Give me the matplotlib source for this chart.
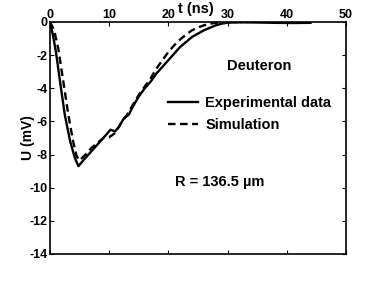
import matplotlib.pyplot as plt

plt.rcParams['font.family'] = ['Liberation Sans', 'DejaVu Sans']
plt.rcParams['font.weight'] = 'bold'

# Experimental trace
t_exp = [0, 0.5, 1, 1.7, 2.5, 3.4, 4.2, 4.8, 5.5, 6.5, 7.5, 8.5, 9.5, 10.2, 11,
         11.7, 12.5, 13.3, 14, 15, 16, 17, 18, 19, 20, 21, 22, 23, 24, 25, 26,
         27, 28, 29, 30, 32, 35, 38, 41, 44]
u_exp = [0, -0.8, -1.8, -3.6, -5.6, -7.2, -8.2, -8.7, -8.4, -8.0, -7.6, -7.2,
         -6.8, -6.5, -6.6, -6.3, -5.8, -5.6, -5.1, -4.5, -4.0, -3.6, -3.1, -2.7,
         -2.3, -1.9, -1.5, -1.2, -0.9, -0.7, -0.5, -0.35, -0.2, -0.1, -0.04,
         -0.02, -0.03, -0.05, -0.06, -0.05]

# Simulated trace
t_sim = [0, 0.7, 1.4, 2.25, 3.1, 3.9, 4.5, 5.0, 6, 7, 8, 9, 10, 11, 12, 13, 14,
         15, 16, 17, 18, 19, 20, 21, 22, 23, 24, 25, 26, 27, 28, 29, 30, 33]
u_sim = [0, -0.5, -1.6, -3.6, -5.6, -7.2, -8.1, -8.35, -8.0, -7.6, -7.3, -7.0,
         -6.95, -6.7, -6.1, -5.6, -5.0, -4.4, -3.9, -3.4, -2.8, -2.3, -1.8,
         -1.4, -1.05, -0.75, -0.5, -0.33, -0.2, -0.1, -0.05, -0.02, 0, 0]

x_ticks = [0, 10, 20, 30, 40, 50]
y_ticks = [0, -2, -4, -6, -8, -10, -12, -14]

fig = plt.figure(figsize=(3.82, 2.86), dpi=100)
ax = fig.add_axes([50 / 382, 1 - 254 / 286, 296 / 382, 232 / 286])

ax.plot(t_exp, u_exp, 'k-', lw=1.7, label='Experimental data')
ax.plot(t_sim, u_sim, color='k', ls=(0, (3.2, 1.9)), lw=1.7, label='Simulation')

ax.set_xlim(0, 50)
ax.set_ylim(-14, 0)
ax.set_xticks(x_ticks)
ax.set_yticks(y_ticks)
ax.set_yticklabels([str(v) for v in y_ticks])
ax.xaxis.tick_top()
ax.tick_params(axis='x', which='both', top=True, bottom=True, direction='in',
               labelsize=9, pad=1, length=3)
ax.tick_params(axis='y', which='both', left=True, right=True, direction='in',
               labelsize=9, pad=1.5, length=3)
for s in ax.spines.values():
    s.set_linewidth(1.2)

ax.text(0.494, 1.054, 't (ns)', transform=ax.transAxes, fontsize=10.5,
        fontweight='bold', ha='center', va='center')
ax.set_ylabel('U (mV)', fontsize=10, fontweight='bold')
ax.yaxis.set_label_coords(-0.05, 0.5)

ax.text(0.706, 0.812, 'Deuteron', transform=ax.transAxes, fontsize=10.5,
        fontweight='bold', ha='center', va='center')
ax.text(0.574, 0.31, 'R = 136.5 µm', transform=ax.transAxes, fontsize=10.5,
        fontweight='bold', ha='center', va='center')

leg = ax.legend(loc='upper left', bbox_to_anchor=(0.399, 0.681), frameon=False,
                fontsize=10.5, handlelength=2.06, handletextpad=0.48,
                labelspacing=0.57, borderpad=0, borderaxespad=0)
for txt in leg.get_texts():
    txt.set_fontweight('bold')

fig.savefig('out.png', dpi=100)
